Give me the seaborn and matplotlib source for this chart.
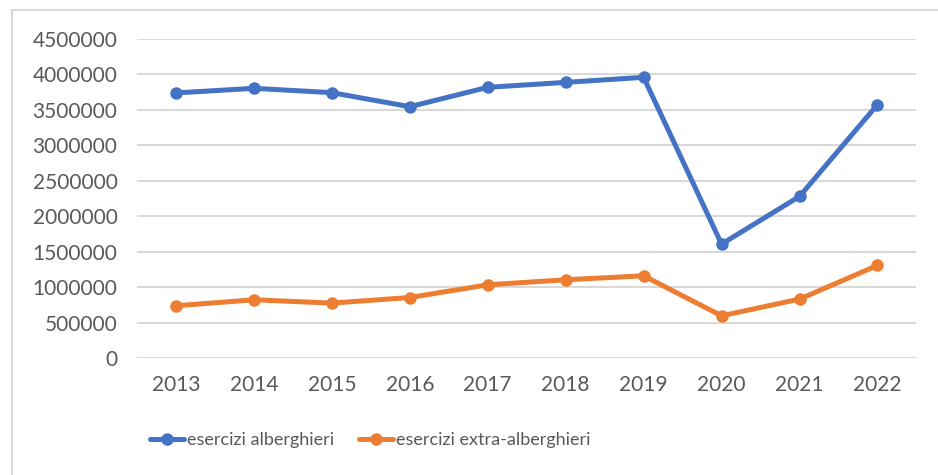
import pandas as pd
import matplotlib
matplotlib.use('Agg')
import matplotlib.pyplot as plt
from matplotlib.patches import Rectangle
import seaborn as sns

# ── Data ─────────────────────────────────────────────────────────────────────
years = [2013, 2014, 2015, 2016, 2017, 2018, 2019, 2020, 2021, 2022]
alberghieri = [3739000, 3804000, 3743000, 3545000, 3818000,
               3888000, 3959000, 1608000, 2280000, 3574000]
extra_alberghieri = [738000, 823000, 776000, 855000, 1034000,
                     1105000, 1161000, 597000, 832000, 1307000]
series_names = ['esercizi alberghieri', 'esercizi extra-alberghieri']
colours = ['#4472C4', '#ED7D31']
y_ticks = list(range(0, 4500001, 500000))

df = pd.concat([
    pd.DataFrame({'anno': years, 'valore': alberghieri, 'serie': series_names[0]}),
    pd.DataFrame({'anno': years, 'valore': extra_alberghieri, 'serie': series_names[1]}),
])

sns.set_theme(style='white')
plt.rcParams['font.family'] = ['Lato', 'DejaVu Sans']

fig = plt.figure(figsize=(9.38, 4.75), dpi=100)
ax = fig.add_axes([0.146, 0.246, 0.831, 0.672])

sns.lineplot(data=df, x='anno', y='valore', hue='serie', palette=colours,
             marker='o', markersize=9, markeredgewidth=0, linewidth=3.6,
             ax=ax, legend=True)

ax.set_xlim(years[0] - 0.5, years[-1] + 0.5)
ax.set_ylim(0, 4500000)
ax.set_xticks(years)
ax.set_yticks(y_ticks)
ax.set_xticklabels([str(y) for y in years])
ax.set_yticklabels([str(v) for v in y_ticks])
ax.tick_params(axis='both', length=0, labelsize=15, colors='#595959')
ax.tick_params(axis='y', pad=14)
ax.tick_params(axis='x', pad=12)
ax.grid(axis='y', color='#d9d9d9', linewidth=1.5)
ax.set_axisbelow(True)
for s in ax.spines.values():
    s.set_visible(False)
ax.set_xlabel('')
ax.set_ylabel('')

handles, labels = ax.get_legend_handles_labels()
ax.legend(handles, labels, loc='center', bbox_to_anchor=(0.299, -0.256),
          ncol=2, frameon=False, fontsize=13, labelcolor='#595959',
          handlelength=1.9, handletextpad=0.15, columnspacing=1.4)

# light frame around the chart area
fig.patches.append(Rectangle((12 / 938, -0.02), 1.1, 1 - 10 / 475 + 0.02,
                             transform=fig.transFigure, fill=False,
                             edgecolor='#d9d9d9', linewidth=1.5))

fig.savefig('out.png', dpi=100)
